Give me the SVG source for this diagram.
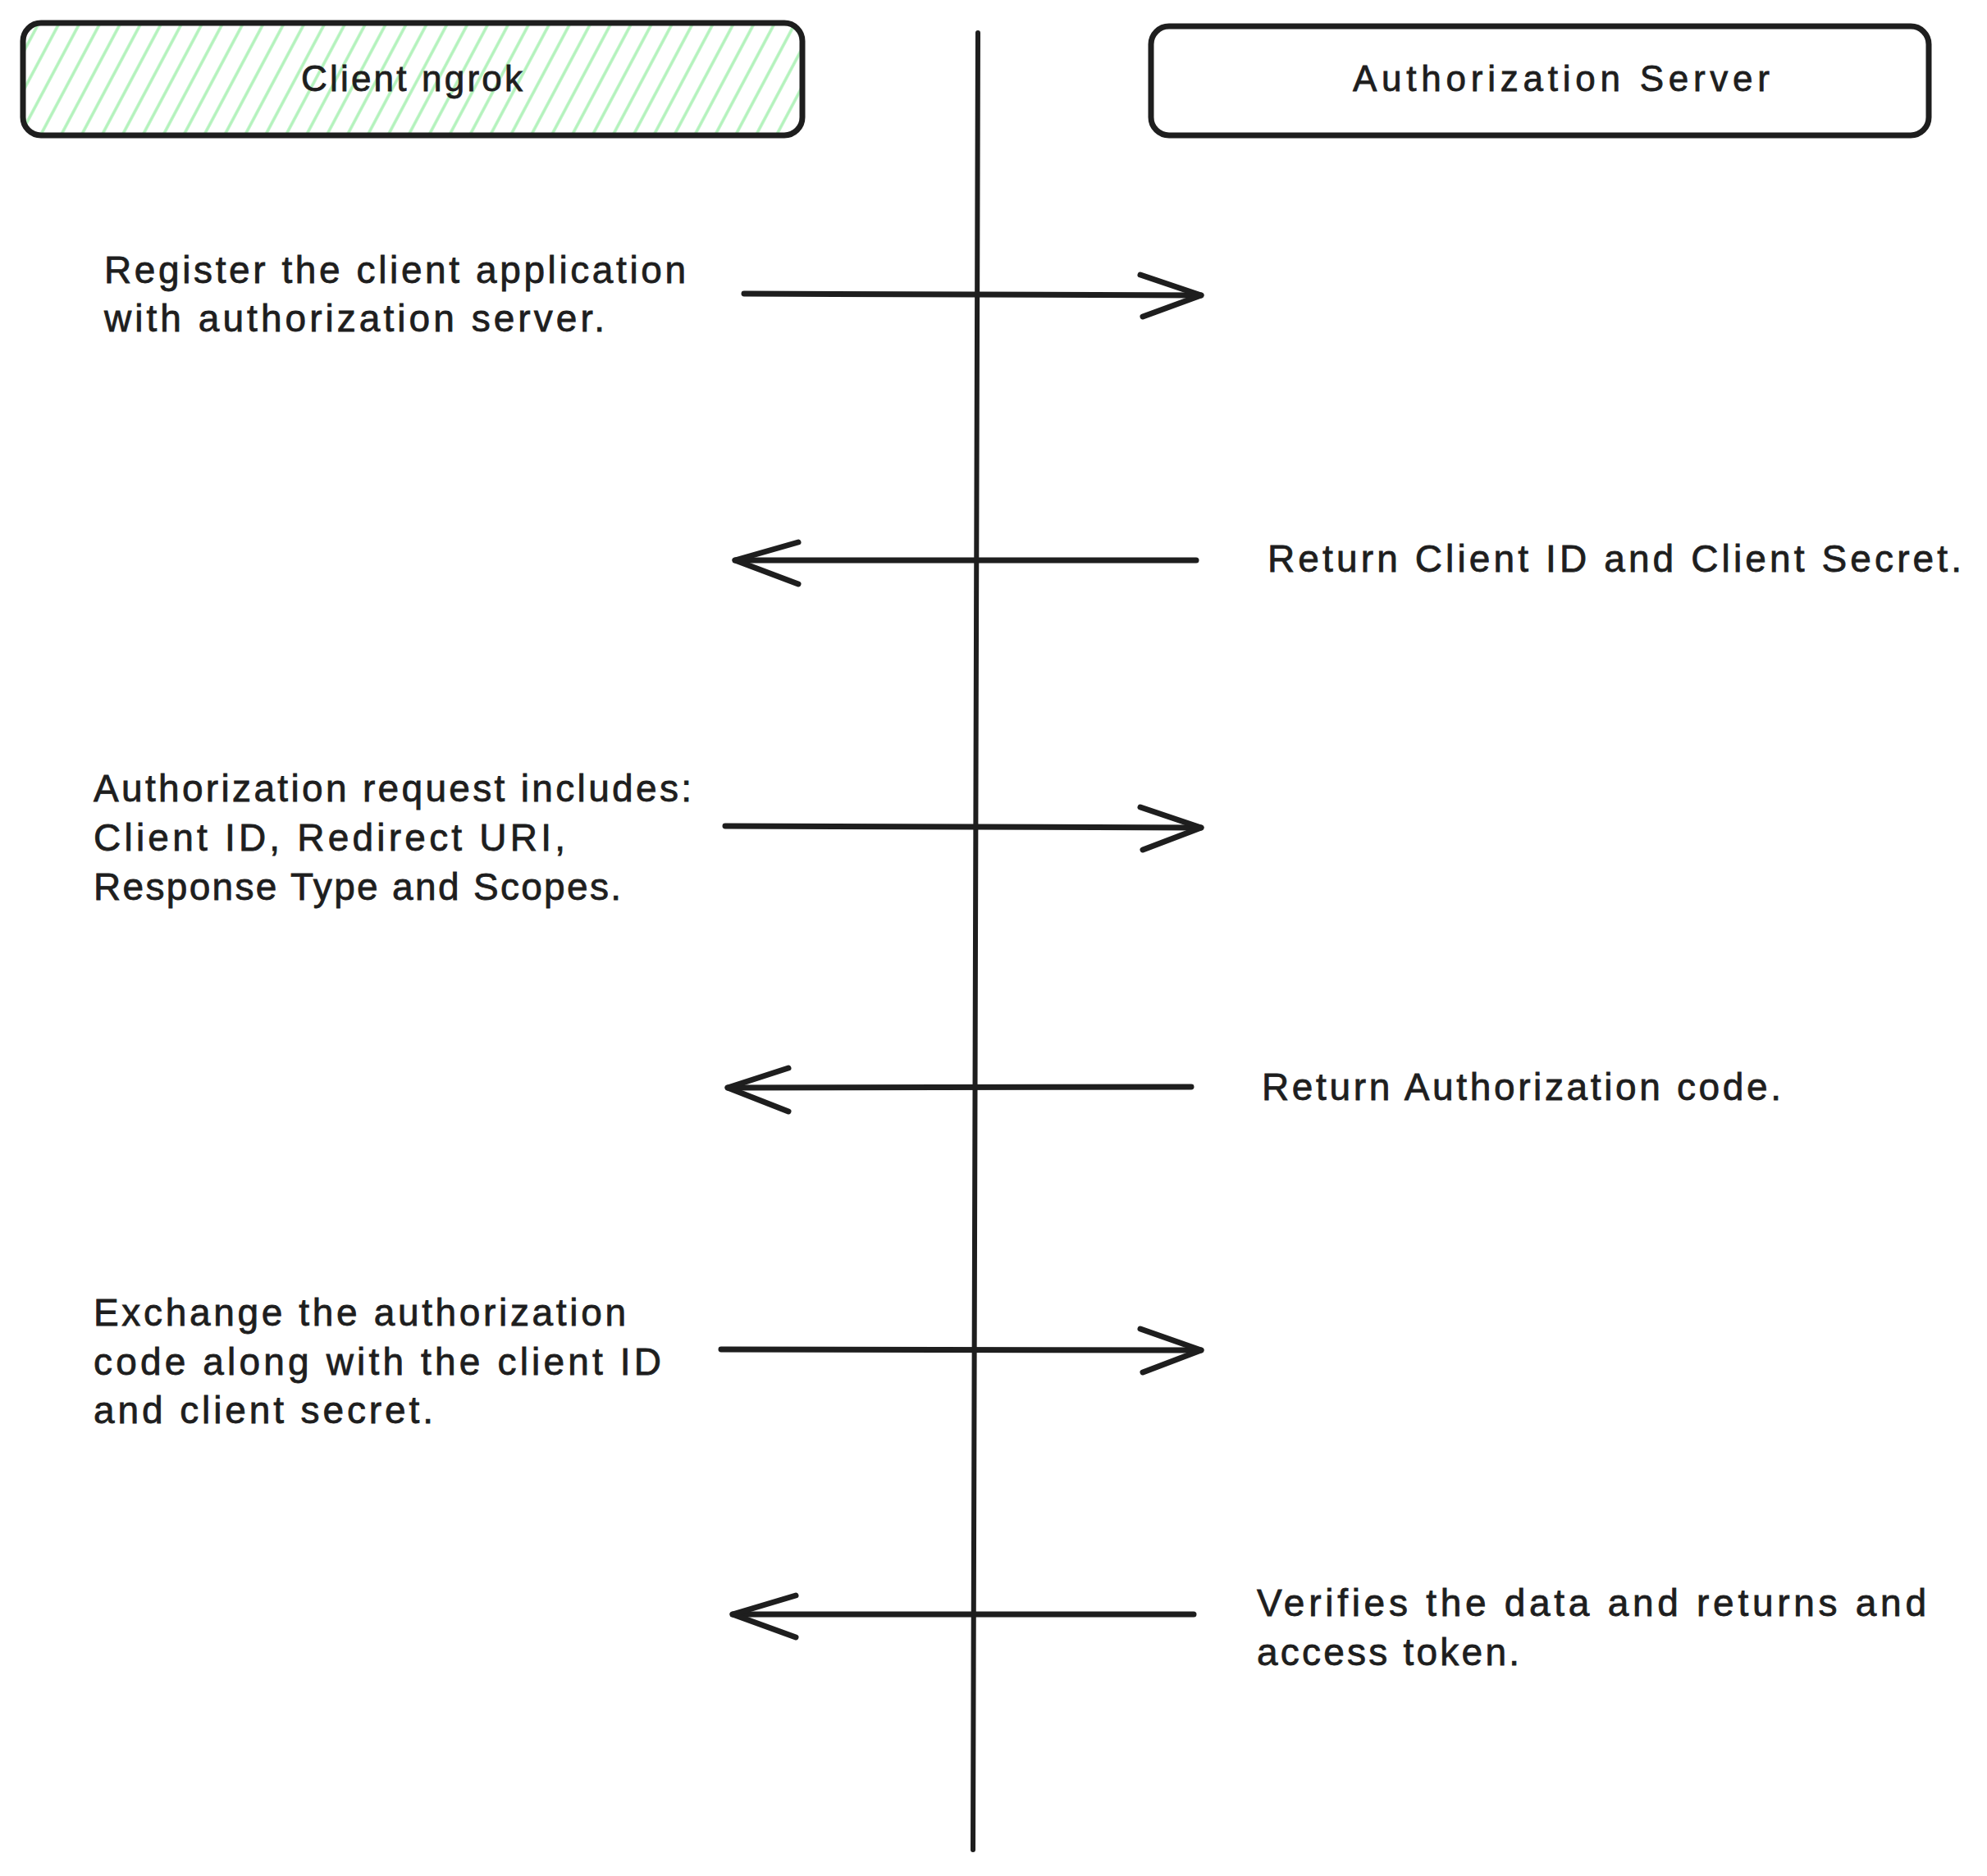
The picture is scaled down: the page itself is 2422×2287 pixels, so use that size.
<svg xmlns="http://www.w3.org/2000/svg" width="2422" height="2287" viewBox="0 0 2422 2287">
<style>
.box{fill:none;stroke:#1e1e1e;stroke-width:7;stroke-linejoin:round}
.ln{fill:none;stroke:#1e1e1e;stroke-width:7;stroke-linecap:round;stroke-linejoin:round}
.life{fill:none;stroke:#1e1e1e;stroke-width:6;stroke-linecap:round}
.t{font-family:"Liberation Sans",Arial,sans-serif;font-size:46px;fill:#1e1e1e;stroke:#1e1e1e;stroke-width:0.8}
.h{font-family:"Liberation Sans",Arial,sans-serif;font-size:44px;fill:#1e1e1e;stroke:#1e1e1e;stroke-width:0.8;text-anchor:middle}
</style>
<defs>
<pattern id="hatch" patternUnits="userSpaceOnUse" width="22" height="22" patternTransform="rotate(28)">
<line x1="11" y1="-2" x2="11" y2="24" stroke="#b2f2bb" stroke-width="3.5"/>
</pattern>
</defs>
<rect width="2422" height="2287" fill="#ffffff"/>

<g id="client-ngrok">
<rect x="28" y="28" width="950" height="137" rx="22" fill="url(#hatch)"/>
<rect class="box" x="28" y="28" width="950" height="137" rx="22"/>
<text class="h" x="502" y="111" textLength="270" lengthAdjust="spacing">Client ngrok</text>
</g>

<g id="authorization-server">
<rect class="box" x="1403" y="32" width="948" height="133" rx="22" fill="#ffffff"/>
<text class="h" x="1903" y="111" textLength="508" lengthAdjust="spacing">Authorization Server</text>
</g>

<g id="lifeline">
<line class="life" x1="1192" y1="40" x2="1186" y2="2255"/>
</g>

<g id="connectors">
<g id="arrow-register">
<line class="ln" x1="907" y1="358" x2="1464" y2="360"/>
<polyline class="ln" points="1390,335 1464,360 1393,386"/>
</g>
<g id="arrow-return-client-id">
<line class="ln" x1="1458" y1="683" x2="896" y2="683"/>
<polyline class="ln" points="973,661 896,683 973,712"/>
</g>
<g id="arrow-auth-request">
<line class="ln" x1="884" y1="1007" x2="1464" y2="1009"/>
<polyline class="ln" points="1390,984 1464,1009 1393,1036"/>
</g>
<g id="arrow-return-code">
<line class="ln" x1="1452" y1="1325" x2="887" y2="1326"/>
<polyline class="ln" points="961,1302 887,1326 961,1355"/>
</g>
<g id="arrow-exchange">
<line class="ln" x1="879" y1="1645" x2="1464" y2="1646"/>
<polyline class="ln" points="1390,1620 1464,1646 1393,1673"/>
</g>
<g id="arrow-token">
<line class="ln" x1="1455" y1="1968" x2="893" y2="1968"/>
<polyline class="ln" points="970,1945 893,1968 970,1996"/>
</g>
</g>

<g id="label-register">
<text class="t" x="127" y="345" textLength="709" lengthAdjust="spacing">Register the client application</text>
<text class="t" x="127" y="404" textLength="610" lengthAdjust="spacing">with authorization server.</text>
</g>
<g id="label-return-client-id">
<text class="t" x="1545" y="697" textLength="846" lengthAdjust="spacing">Return Client ID and Client Secret.</text>
</g>
<g id="label-auth-request">
<text class="t" x="114" y="977" textLength="729" lengthAdjust="spacing">Authorization request includes:</text>
<text class="t" x="114" y="1037" textLength="575" lengthAdjust="spacing">Client ID, Redirect URI,</text>
<text class="t" x="114" y="1097" textLength="643" lengthAdjust="spacing">Response Type and Scopes.</text>
</g>
<g id="label-return-code">
<text class="t" x="1538" y="1341" textLength="633" lengthAdjust="spacing">Return Authorization code.</text>
</g>
<g id="label-exchange">
<text class="t" x="114" y="1616" textLength="649" lengthAdjust="spacing">Exchange the authorization</text>
<text class="t" x="114" y="1676" textLength="692" lengthAdjust="spacing">code along with the client ID</text>
<text class="t" x="114" y="1735" textLength="414" lengthAdjust="spacing">and client secret.</text>
</g>
<g id="label-token">
<text class="t" x="1532" y="1970" textLength="816" lengthAdjust="spacing">Verifies the data and returns and</text>
<text class="t" x="1532" y="2030" textLength="320" lengthAdjust="spacing">access token.</text>
</g>
</svg>
